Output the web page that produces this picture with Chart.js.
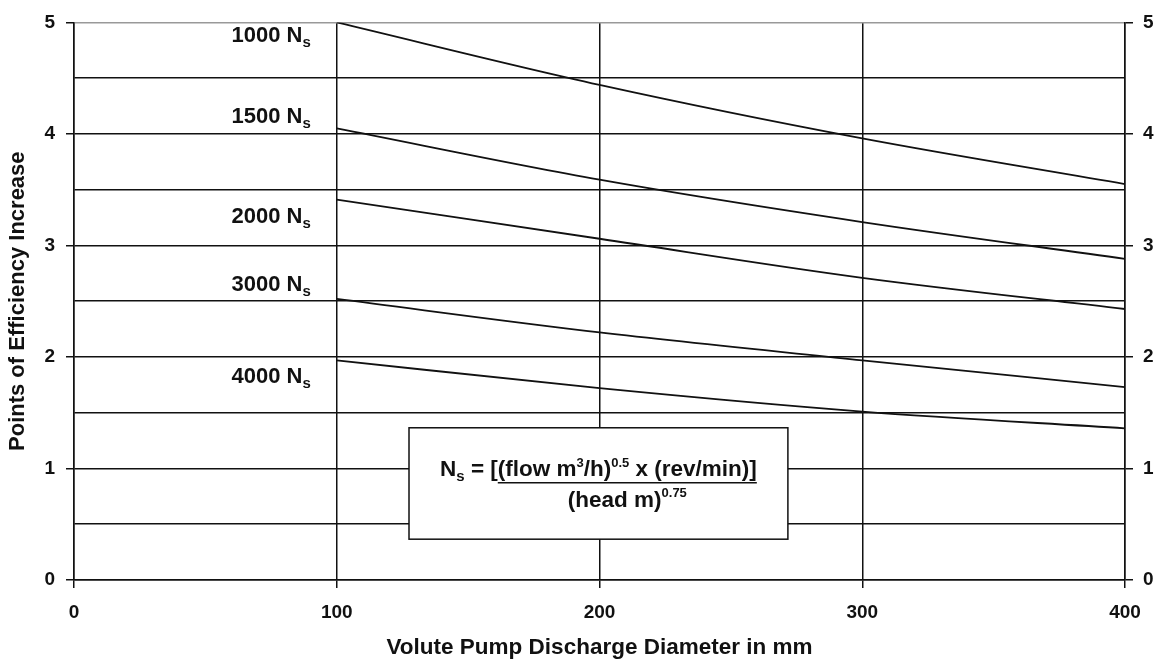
<!DOCTYPE html>
<html>
<head>
<meta charset="utf-8">
<script src="https://cdn.jsdelivr.net/npm/chart.js@4.4.1/dist/chart.umd.min.js"></script>
<style>
  html, body { margin: 0; padding: 0; background: #fff; }
</style>
</head>
<body>
<canvas id="pumpChart" width="1161" height="666"></canvas>
<script>
// Volute pump efficiency gain vs discharge diameter
const diameters = [100, 200, 300, 400];
const speedLabels = ['1000', '1500', '2000', '3000', '4000'];
const ns1000 = [5.0, 4.44, 3.96, 3.55];
const ns1500 = [4.05, 3.59, 3.21, 2.88];
const ns2000 = [3.41, 3.06, 2.71, 2.43];
const ns3000 = [2.52, 2.22, 1.97, 1.73];
const ns4000 = [1.97, 1.72, 1.51, 1.36];
const seriesList = [ns1000, ns1500, ns2000, ns3000, ns4000];

const FONT = '"Liberation Sans", Arial, sans-serif';
const INK = '#111';

// label anchors (value units), set just left of x = 100
const labelYs = [4.9, 4.17, 3.27, 2.66, 1.84];

const isWhole = v => Number.isInteger(v);

// draws a row of text pieces (normal / sub / superscript), returns piece start x's
function drawRuns(ctx, runs, startX, baseY) {
  let x = startX;
  const starts = [];
  runs.forEach(r => {
    ctx.font = 'bold ' + r.size + 'px ' + FONT;
    starts.push(x);
    ctx.fillText(r.t, x, baseY + (r.dy || 0));
    x += ctx.measureText(r.t).width;
  });
  starts.push(x);
  return starts;
}
function runsWidth(ctx, runs) {
  let w = 0;
  runs.forEach(r => { ctx.font = 'bold ' + r.size + 'px ' + FONT; w += ctx.measureText(r.t).width; });
  return w;
}

const annotations = {
  id: 'annotations',
  afterDatasetsDraw(chart) {
    const ctx = chart.ctx;
    const xs = chart.scales.x, ys = chart.scales.y;
    ctx.save();
    ctx.fillStyle = INK;
    ctx.textBaseline = 'alphabetic';

    // curve labels "xxxx Ns"
    const right = xs.getPixelForValue(100) - 26;
    speedLabels.forEach((lab, i) => {
      const runs = [{ t: lab + ' N', size: 22 }, { t: 's', size: 15, dy: 5 }];
      const w = runsWidth(ctx, runs);
      const base = ys.getPixelForValue(labelYs[i]) + 8;
      drawRuns(ctx, runs, right - w, base);
    });

    // formula box
    const bx1 = xs.getPixelForValue(127.5), bx2 = xs.getPixelForValue(271.7);
    const by1 = ys.getPixelForValue(1.365), by2 = ys.getPixelForValue(0.366);
    ctx.fillStyle = '#fff';
    ctx.fillRect(bx1, by1, bx2 - bx1, by2 - by1);
    ctx.strokeStyle = INK;
    ctx.lineWidth = 1.5;
    ctx.strokeRect(bx1, by1, bx2 - bx1, by2 - by1);

    ctx.fillStyle = INK;
    const line1 = [
      { t: 'N', size: 22.5 }, { t: 's', size: 15, dy: 5 }, { t: ' = [', size: 22.5 },
      { t: '(flow m', size: 22.5 }, { t: '3', size: 13, dy: -9 }, { t: '/h)', size: 22.5 },
      { t: '0.5', size: 13, dy: -9 }, { t: ' x (rev/min)]', size: 22.5 }
    ];
    const cx = (bx1 + bx2) / 2;
    const w1 = runsWidth(ctx, line1);
    const base1 = by1 + 48;
    const st = drawRuns(ctx, line1, cx - w1 / 2, base1);
    const fracL = st[3], fracR = st[st.length - 1];
    ctx.beginPath();
    ctx.moveTo(fracL, base1 + 7);
    ctx.lineTo(fracR, base1 + 7);
    ctx.lineWidth = 1.5;
    ctx.stroke();

    const line2 = [{ t: '(head m)', size: 22.5 }, { t: '0.75', size: 13, dy: -10 }];
    const w2 = runsWidth(ctx, line2);
    drawRuns(ctx, line2, (fracL + fracR) / 2 - w2 / 2, base1 + 31);
    ctx.restore();
  }
};

const ctx = document.getElementById('pumpChart').getContext('2d');
new Chart(ctx, {
  type: 'line',
  data: {
    datasets: seriesList.map((s, i) => ({
      label: speedLabels[i] + ' Ns',
      data: diameters.map((d, j) => ({ x: d, y: s[j] })),
      borderColor: INK,
      borderWidth: 1.8,
      pointRadius: 0,
      fill: false,
      cubicInterpolationMode: 'monotone'
    }))
  },
  options: {
    responsive: false,
    animation: false,
    layout: { padding: { top: 20, left: 0, right: 0, bottom: 0 } },
    plugins: { legend: { display: false }, tooltip: { enabled: false } },
    scales: {
      x: {
        type: 'linear', min: 0, max: 400,
        ticks: { stepSize: 100, color: INK, font: { family: FONT, size: 19, weight: 'bold' }, padding: 13, maxRotation: 0 },
        grid: { color: INK, lineWidth: 1.5, tickLength: 8, tickColor: INK },
        border: { display: true, color: INK, width: 1.5 },
        title: { display: true, text: 'Volute Pump Discharge Diameter in mm', color: INK,
                 font: { family: FONT, size: 22.5, weight: 'bold' }, padding: { top: 4, bottom: 5 } },
        afterFit: s => { s.height = 86; }
      },
      y: {
        position: 'left', min: 0, max: 5,
        ticks: { stepSize: 0.5, color: INK, font: { family: FONT, size: 19, weight: 'bold' }, padding: 11,
                 callback: v => isWhole(v) ? v : '' },
        grid: { color: c => (c.tick && c.tick.value === 5) ? '#999' : INK, lineWidth: 1.5, tickLength: 8,
                tickColor: c => (c.tick && isWhole(c.tick.value)) ? INK : 'rgba(0,0,0,0)' },
        border: { display: true, color: INK, width: 1.5 },
        title: { display: true, text: 'Points of Efficiency Increase', color: INK,
                 font: { family: FONT, size: 22, weight: 'bold' }, padding: { top: 5, bottom: 0 } },
        afterFit: s => { s.width = 74; }
      },
      y2: {
        position: 'right', min: 0, max: 5,
        ticks: { stepSize: 0.5, color: INK, font: { family: FONT, size: 19, weight: 'bold' }, padding: 10,
                 callback: v => isWhole(v) ? v : '' },
        grid: { drawOnChartArea: false, lineWidth: 1.5, tickLength: 8,
                tickColor: c => (c.tick && isWhole(c.tick.value)) ? INK : 'rgba(0,0,0,0)' },
        border: { display: true, color: INK, width: 1.5 },
        afterFit: s => { s.width = 36; }
      }
    }
  },
  plugins: [annotations]
});
</script>
</body>
</html>
